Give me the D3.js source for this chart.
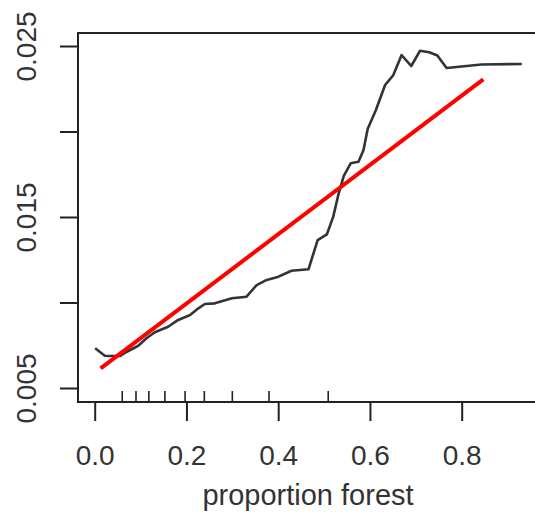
<!DOCTYPE html>
<html><head><meta charset="utf-8">
<script src="https://cdn.jsdelivr.net/npm/d3@7"></script>
<style>body{margin:0;background:#fff}svg{display:block}</style>
</head><body>
<script>
// Partial dependence curve: proportion forest vs response
const curveX = [0.001,0.022,0.033,0.055,0.070,0.095,0.113,0.131,0.160,0.182,0.208,0.226,0.240,0.262,0.299,0.331,0.353,0.375,0.397,0.429,0.466,0.486,0.506,0.520,0.531,0.543,0.558,0.575,0.586,0.595,0.613,0.633,0.651,0.669,0.690,0.709,0.729,0.747,0.767,0.789,0.843,0.931];
const curveY = [0.00732,0.00689,0.00687,0.00687,0.00712,0.00747,0.00791,0.00826,0.00858,0.00898,0.00927,0.00966,0.00991,0.00995,0.01025,0.01034,0.01102,0.01132,0.01147,0.01186,0.01194,0.01365,0.01398,0.01502,0.01629,0.01740,0.01814,0.01823,0.01892,0.02015,0.02126,0.02272,0.02330,0.02447,0.02383,0.02472,0.02463,0.02444,0.02371,0.02377,0.02392,0.02395];
// Linear fit (red line) endpoints
const fitX = [0.013, 0.847];
const fitY = [0.00615, 0.02305];
// Rug (decile) positions
const rugX = [0.060,0.090,0.118,0.153,0.197,0.239,0.300,0.380,0.509];
// Tick values
const xTicks = [0.0,0.2,0.4,0.6,0.8];
const yTicks = [0.005,0.010,0.015,0.020,0.025];
const yLabelTicks = [0.005,0.015,0.025];
const xTitle = "proportion forest";

const W = 535, H = 512;
const svg = d3.select("body").append("svg").attr("width", W).attr("height", H);
const font = "'Liberation Sans', Arial, Helvetica, sans-serif";

const x = d3.scaleLinear().domain([0, 0.8]).range([94.7, 461.7]);
const y = d3.scaleLinear().domain([0.005, 0.025]).range([388, 46]);

const boxL = 78, boxT = 33, boxB = 402, boxR = 538;

// curve
const pts = curveX.map((v,i)=>[v, curveY[i]]);
svg.append("path").datum(pts)
  .attr("d", d3.line().x(d=>x(d[0])).y(d=>y(d[1])))
  .attr("fill","none").attr("stroke","#333").attr("stroke-width",2.6)
  .attr("stroke-linejoin","round");

// fit line
svg.append("path").datum(fitX.map((v,i)=>[v, fitY[i]]))
  .attr("d", d3.line().x(d=>x(d[0])).y(d=>y(d[1])))
  .attr("fill","none").attr("stroke","#ff0000").attr("stroke-width",4);

// rug
svg.append("g").selectAll("line").data(rugX).join("line")
  .attr("x1", d=>x(d)).attr("x2", d=>x(d))
  .attr("y1", boxB).attr("y2", boxB-11)
  .attr("stroke","#222").attr("stroke-width",1.6);

// box
svg.append("path")
  .attr("d", `M${boxR},${boxT}H${boxL}V${boxB}H${boxR}`)
  .attr("fill","none").attr("stroke","#222").attr("stroke-width",2);

// x axis
const xAxis = d3.axisBottom(x).tickValues(xTicks).tickSize(19).tickPadding(24)
  .tickFormat(d3.format(".1f"));
const gx = svg.append("g").attr("transform", `translate(0,${boxB})`).call(xAxis);
gx.select(".domain").remove();
gx.selectAll(".tick line").attr("stroke","#222").attr("stroke-width",2);
gx.selectAll(".tick text").attr("font-family", font).attr("font-size", 28).attr("fill","#333");

// y axis
const yAxis = d3.axisLeft(y).tickValues(yTicks).tickSize(18)
  .tickFormat(d => yLabelTicks.some(v=>Math.abs(v-d)<1e-9) ? d3.format(".3f")(d) : "");
const gy = svg.append("g").attr("transform", `translate(${boxL},0)`).call(yAxis);
gy.select(".domain").remove();
gy.selectAll(".tick line").attr("stroke","#222").attr("stroke-width",2);
gy.selectAll(".tick text")
  .attr("font-family", font).attr("font-size", 28).attr("fill","#333")
  .attr("x", null).attr("dy", null)
  .attr("text-anchor","middle")
  .attr("transform", "translate(-42.5,0) rotate(-90)");

// x title
svg.append("text").attr("x", 308).attr("y", 505)
  .attr("text-anchor","middle").attr("font-family", font).attr("font-size", 29)
  .attr("fill","#333").text(xTitle);
</script>
</body></html>
